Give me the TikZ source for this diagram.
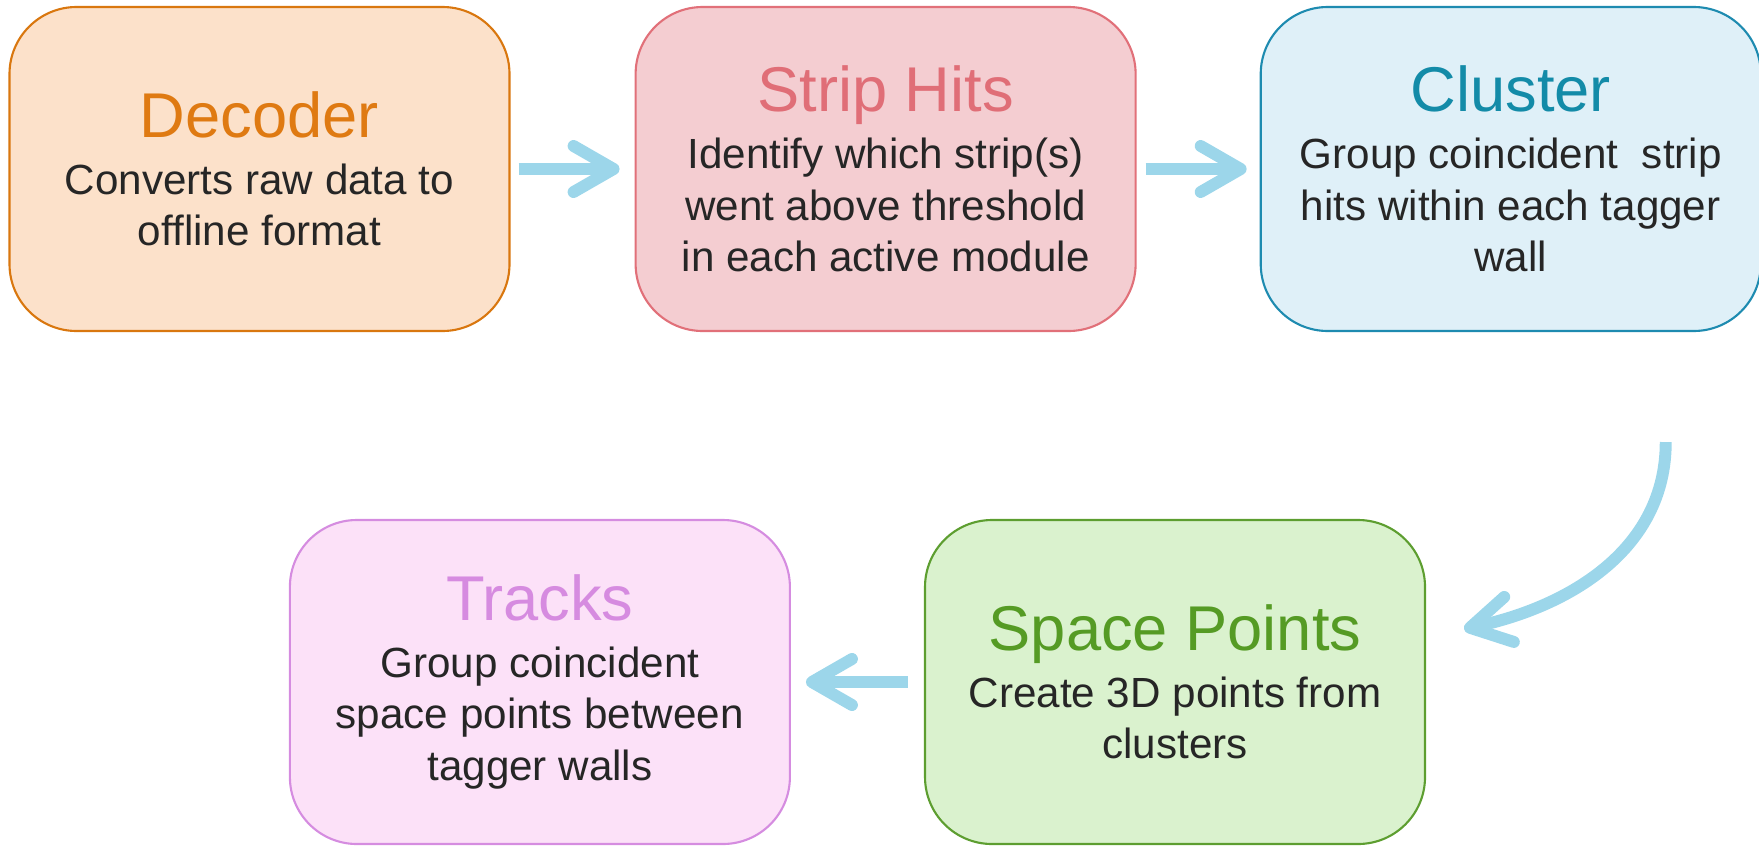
\documentclass[tikz,border=0pt]{standalone}
\usepackage{fontspec}
\setmainfont{Liberation Sans}
\usepackage{xcolor}
\usepackage{tikz}
\usetikzlibrary{arrows.meta, calc, positioning}

\definecolor{arrowblue}{HTML}{9CD6EA}
\definecolor{bodytext}{HTML}{262626}
\definecolor{decfill}{HTML}{FCE1CA}
\definecolor{decline}{HTML}{D9770F}
\definecolor{dectitle}{HTML}{DF7A12}
\definecolor{stripfill}{HTML}{F4CDD1}
\definecolor{stripline}{HTML}{E17079}
\definecolor{striptitle}{HTML}{E06E77}
\definecolor{clusfill}{HTML}{DFF0F8}
\definecolor{clusline}{HTML}{1E8BB0}
\definecolor{clustitle}{HTML}{138BA8}
\definecolor{spfill}{HTML}{DAF2CE}
\definecolor{spline}{HTML}{5D9E30}
\definecolor{sptitle}{HTML}{559B24}
\definecolor{trkfill}{HTML}{FCE1F8}
\definecolor{trkline}{HTML}{D58CE0}
\definecolor{trktitle}{HTML}{D68BE0}

\newcommand{\stagetitle}[2]{{\color{#1}\fontsize{18}{20}\selectfont #2}\\[1.4pt]}

\begin{document}
\begin{tikzpicture}[
          stage/.style={draw, line width=0.6pt, rounded corners=0.67cm,
                        minimum width=5.0cm, minimum height=3.24cm,
                        align=center, text=bodytext,
                        font=\fontsize{12}{14.7}\selectfont},
          flow/.style={draw=arrowblue, line width=3.4pt,
                       -{Straight Barb[length=0.4cm, width=0.46cm, round]}},
        ]
        \useasboundingbox (0,0) rectangle (17.59,8.45);

        % --- top row: decoding and hit finding ---
        \node[stage, fill=decfill, draw=decline] (dec) at (2.595,6.76)
          {\stagetitle{dectitle}{Decoder}
           Converts raw data to\\ offline format};
        \node[stage, fill=stripfill, draw=stripline, right=1.24cm of dec] (strip)
          {\stagetitle{striptitle}{Strip Hits}
           Identify which strip(s)\\ went above threshold\\ in each active module};
        \node[stage, fill=clusfill, draw=clusline, right=1.23cm of strip] (cluster)
          {\stagetitle{clustitle}{Cluster}
           Group coincident~ strip\\ hits within each tagger\\ wall};

        % --- bottom row: space points and tracks ---
        \node[stage, fill=spfill, draw=spline] (space) at (11.75,1.63)
          {\stagetitle{sptitle}{Space Points}
           Create 3D points from\\ clusters};
        \node[stage, fill=trkfill, draw=trkline, left=1.33cm of space] (tracks)
          {\stagetitle{trktitle}{Tracks}
           Group coincident\\ space points between\\ tagger walls};

        % --- arrows ---
        \draw[flow] ([xshift=0.08cm]dec.east) -- ([xshift=-0.15cm]strip.west);
        \draw[flow] ([xshift=0.09cm]strip.east) -- ([xshift=-0.13cm]cluster.west);

        \coordinate (bendA) at ($(cluster.south)+(1.55,-1.10)$);
        \coordinate (bendB) at ($(space.east)+(0.38,0.53)$);
        \draw[flow] (bendA) to[out=-90, in=12] (bendB);

        \draw[flow] ([xshift=-0.16cm]space.west) -- ([xshift=0.15cm]tracks.east);
\end{tikzpicture}
\end{document}
